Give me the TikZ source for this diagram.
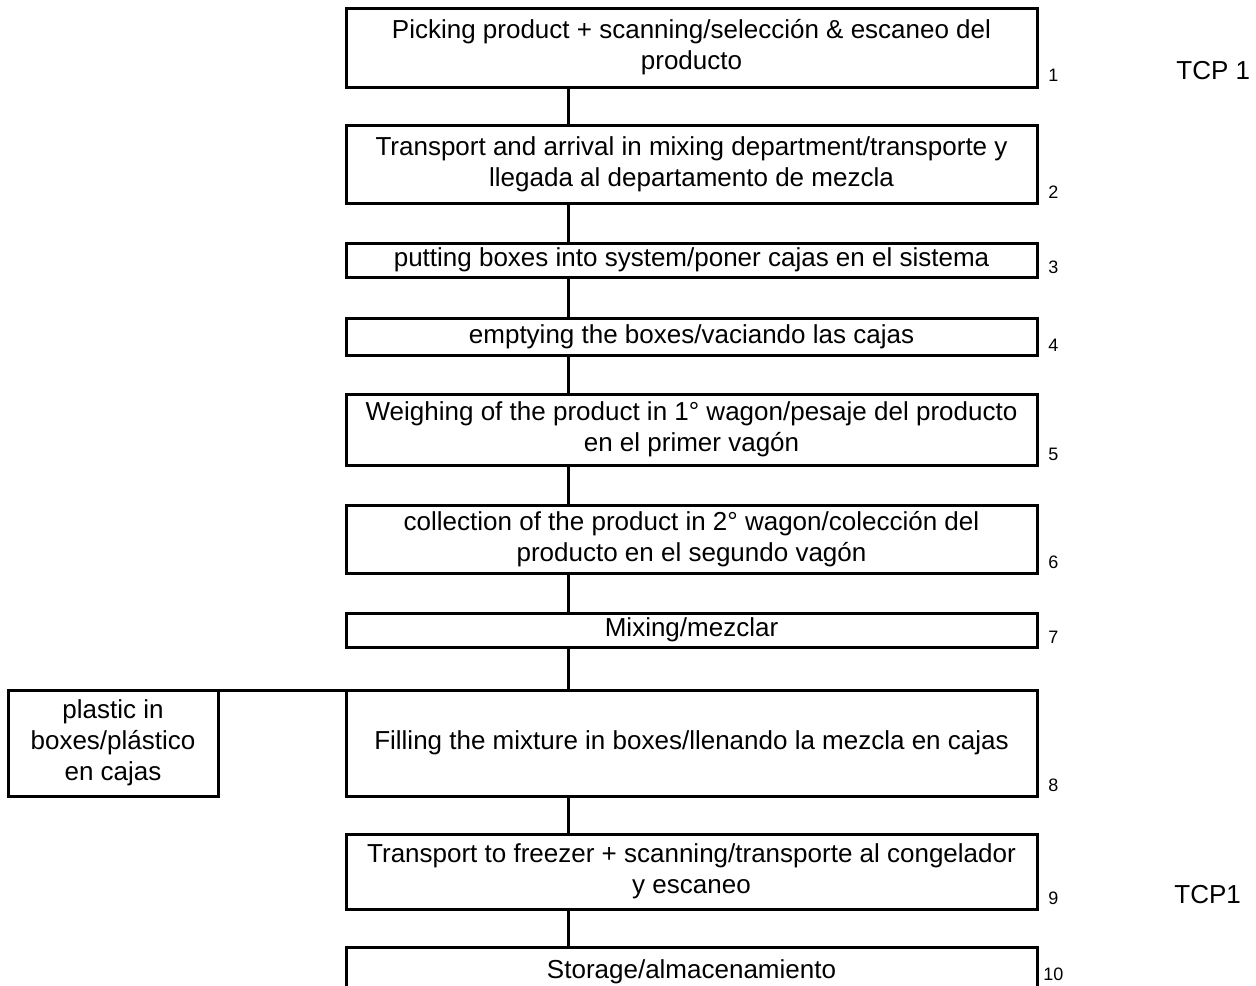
\documentclass[tikz,border=0pt]{standalone}
\usepackage{fontspec}
\setmainfont{Liberation Sans}
\usetikzlibrary{positioning}
\tikzset{
  stepbox/.style={draw, line width=1.5pt, minimum width=345.5pt, inner sep=0pt, outer sep=0pt, align=center, font=\fontsize{13}{15.5}\selectfont},
  link/.style={draw, line width=1.5pt, -},
  num/.style={anchor=base west, inner sep=0pt, font=\fontsize{9}{10}\selectfont},
  tcp/.style={anchor=base west, inner sep=0pt, font=\fontsize{13}{15.5}\selectfont},
}
\begin{document}
\begin{tikzpicture}[x=0.5pt,y=-0.5pt]
\useasboundingbox (0,0) rectangle (1256,985);
\clip (0,0) rectangle (1256,985);
\coordinate (spine) at (568,0);
\node[stepbox, minimum height=39.5pt] (b1) at (691.5,47.5) {Picking product + scanning/selección \& escaneo del\\producto};
\node[stepbox, minimum height=39pt] (b2) at (691.5,164) {Transport and arrival in mixing department/transporte y\\llegada al departamento de mezcla};
\node[stepbox, minimum height=17pt] (b3) at (691.5,260) {putting boxes into system/poner cajas en el sistema};
\node[stepbox, minimum height=18.5pt] (b4) at (691.5,336.5) {emptying the boxes/vaciando las cajas};
\node[stepbox, minimum height=35.5pt] (b5) at (691.5,429.5) {Weighing of the product in 1° wagon/pesaje del producto\\en el primer vagón};
\node[stepbox, minimum height=34pt] (b6) at (691.5,539) {collection of the product in 2° wagon/colección del\\producto en el segundo vagón};
\node[stepbox, minimum height=17pt] (b7) at (691.5,630) {Mixing/mezclar};
\node[stepbox, minimum height=53pt] (b8) at (691.5,743) {Filling the mixture in boxes/llenando la mezcla en cajas};
\node[stepbox, minimum height=53pt, minimum width=105pt] (pl) at (113,743) {plastic in\\boxes/plástico\\en cajas};
\node[stepbox, minimum height=37.5pt] (b9) at (691.5,871.5) {Transport to freezer + scanning/transporte al congelador\\y escaneo};
\node[stepbox, minimum height=25pt] (b10) at (691.5,972) {Storage/almacenamiento};
% step numbers
\node[num] (n1) at ([xshift=5.5pt,yshift=3pt]b1.south east) {1};
\node[num] (n2) at ([xshift=5.5pt,yshift=2.5pt]b2.south east) {2};
\node[num] (n3) at ([xshift=5.5pt,yshift=2pt]b3.south east) {3};
\node[num] (n4) at ([xshift=5.5pt,yshift=2pt]b4.south east) {4};
\node[num] (n5) at ([xshift=5.5pt,yshift=2.5pt]b5.south east) {5};
\node[num] (n6) at ([xshift=5.5pt,yshift=2.5pt]b6.south east) {6};
\node[num] (n7) at ([xshift=5.5pt,yshift=2pt]b7.south east) {7};
\node[num] (n8) at ([xshift=5.5pt,yshift=2.5pt]b8.south east) {8};
\node[num] (n9) at ([xshift=5.5pt,yshift=2.5pt]b9.south east) {9};
\node[num] (n10) at (1043,980) {10};
\node[tcp] (t1) at (1176,79) {TCP 1};
\node[tcp] (t9) at (1174,903) {TCP1};
% connectors
\path[link] (b1.south -| spine) -- (b2.north -| spine);
\path[link] (b2.south -| spine) -- (b3.north -| spine);
\path[link] (b3.south -| spine) -- (b4.north -| spine);
\path[link] (b4.south -| spine) -- (b5.north -| spine);
\path[link] (b5.south -| spine) -- (b6.north -| spine);
\path[link] (b6.south -| spine) -- (b7.north -| spine);
\path[link] (b7.south -| spine) -- (b8.north -| spine);
\path[link] (pl.north east) -- (b8.north west);
\path[link] (b8.south -| spine) -- (b9.north -| spine);
\path[link] (b9.south -| spine) -- (b10.north -| spine);
\end{tikzpicture}
\end{document}
